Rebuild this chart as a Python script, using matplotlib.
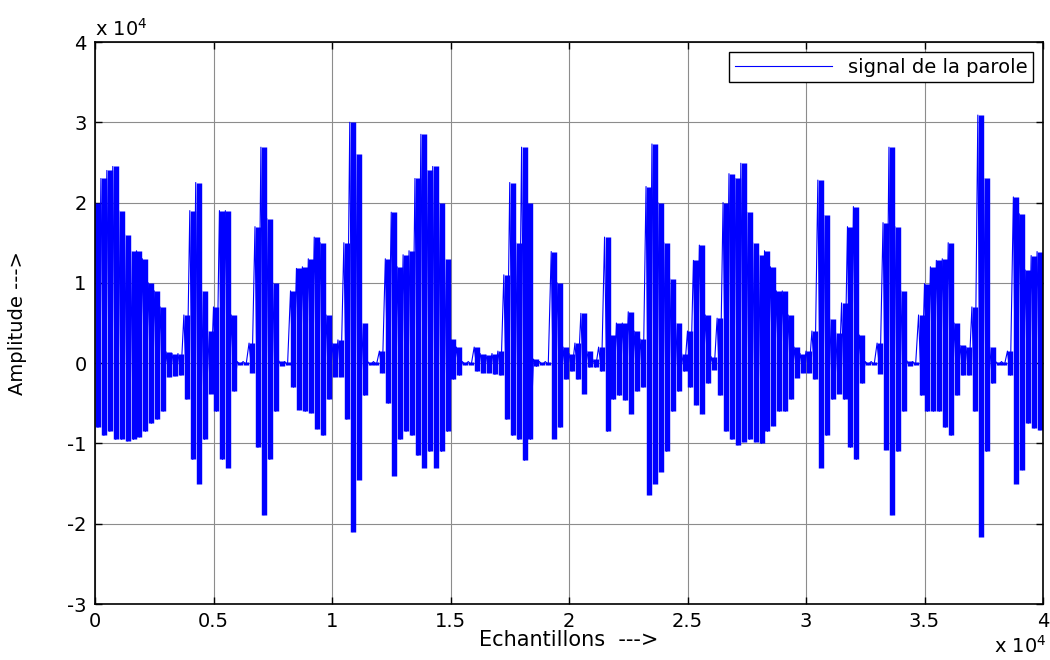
"""Speech signal waveform (amplitude vs samples), MATLAB-style figure."""

import numpy as np
import matplotlib
matplotlib.use("Agg")
import matplotlib.pyplot as plt

# ── Data ──────────────────────────────────────────────────────────────────────
# Signal summarised per block of 250 samples: peak high / peak low, in units of 1e4

BLOCK = 250
N_SAMPLES = 40000

amp_hi = [
    2.00, 2.30, 2.40, 2.45, 1.90, 1.60, 1.40, 1.40, 1.30, 1.00,
    0.90, 0.70, 0.14, 0.12, 0.12, 0.60, 1.90, 2.25, 0.90, 0.40,
    0.70, 1.90, 1.90, 0.60, 0.02, 0.02, 0.25, 1.70, 2.69, 1.80,
    1.00, 0.03, 0.02, 0.90, 1.18, 1.20, 1.30, 1.57, 1.50, 0.60,
    0.25, 0.29, 1.50, 3.00, 2.60, 0.50, 0.02, 0.02, 0.15, 1.30,
    1.88, 1.20, 1.35, 1.40, 2.30, 2.85, 2.40, 2.45, 2.00, 1.30,
    0.30, 0.20, 0.02, 0.02, 0.20, 0.12, 0.10, 0.12, 0.15, 1.10,
    2.25, 1.50, 2.69, 2.00, 0.05, 0.02, 0.02, 1.39, 1.00, 0.20,
    0.12, 0.25, 0.62, 0.15, 0.05, 0.20, 1.57, 0.35, 0.50, 0.50,
    0.64, 0.40, 0.30, 2.20, 2.73, 2.00, 1.50, 1.05, 0.50, 0.12,
    0.40, 1.28, 1.47, 0.60, 0.08, 0.56, 2.00, 2.36, 2.30, 2.49,
    1.88, 1.50, 1.35, 1.40, 1.20, 0.90, 0.90, 0.60, 0.20, 0.12,
    0.15, 0.40, 2.28, 1.84, 0.55, 0.38, 0.75, 1.70, 1.95, 0.35,
    0.02, 0.02, 0.25, 1.75, 2.69, 1.70, 0.90, 0.03, 0.02, 0.60,
    0.99, 1.20, 1.28, 1.30, 1.50, 0.50, 0.22, 0.20, 0.70, 3.09,
    2.30, 0.20, 0.02, 0.02, 0.15, 2.07, 1.86, 1.16, 1.34, 1.39,
]

amp_lo = [
    -0.80, -0.90, -0.85, -0.95, -0.95, -0.97, -0.95, -0.92, -0.85, -0.75,
    -0.70, -0.60, -0.17, -0.16, -0.15, -0.45, -1.20, -1.50, -0.95, -0.38,
    -0.60, -1.20, -1.30, -0.35, -0.02, -0.02, -0.12, -1.05, -1.89, -1.20,
    -0.60, -0.03, -0.02, -0.30, -0.58, -0.60, -0.62, -0.82, -0.90, -0.45,
    -0.17, -0.17, -0.70, -2.10, -1.45, -0.40, -0.02, -0.02, -0.12, -0.50,
    -1.40, -0.95, -0.85, -0.90, -1.15, -1.30, -1.10, -1.30, -1.10, -0.85,
    -0.20, -0.15, -0.02, -0.02, -0.10, -0.12, -0.12, -0.14, -0.15, -0.70,
    -0.90, -0.95, -1.21, -0.95, -0.04, -0.02, -0.02, -0.94, -0.80, -0.20,
    -0.10, -0.20, -0.38, -0.05, -0.05, -0.10, -0.85, -0.45, -0.40, -0.46,
    -0.63, -0.35, -0.30, -1.64, -1.50, -1.35, -1.10, -0.60, -0.35, -0.10,
    -0.30, -0.52, -0.63, -0.25, -0.08, -0.40, -0.85, -0.95, -1.02, -0.98,
    -0.95, -0.98, -1.00, -0.85, -0.78, -0.60, -0.60, -0.45, -0.18, -0.12,
    -0.12, -0.20, -1.30, -0.90, -0.45, -0.38, -0.45, -1.05, -1.20, -0.25,
    -0.02, -0.02, -0.13, -1.08, -1.89, -1.10, -0.60, -0.03, -0.02, -0.40,
    -0.60, -0.60, -0.60, -0.80, -0.90, -0.40, -0.15, -0.15, -0.60, -2.16,
    -1.10, -0.25, -0.02, -0.02, -0.15, -1.50, -1.33, -0.75, -0.81, -0.83,
]

x_ticks = [0, 0.5, 1, 1.5, 2, 2.5, 3, 3.5, 4]
y_ticks = [-3, -2, -1, 0, 1, 2, 3, 4]

# ── Build the trace: high then low inside each block ──────────────────────────

hi = np.array(amp_hi)
lo = np.array(amp_lo)
starts = np.arange(len(hi)) * BLOCK / 1e4
centers = starts + BLOCK / 2 / 1e4

xs = np.empty(2 * len(hi))
ys = np.empty(2 * len(hi))
xs[0::2], xs[1::2] = starts, centers
ys[0::2], ys[1::2] = hi, lo

# ── Figure ────────────────────────────────────────────────────────────────────

plt.rcParams["font.family"] = ["DejaVu Sans"]
FS = 14

fig = plt.figure(figsize=(10.5, 6.6), dpi=100)
ax = fig.add_axes([95 / 1050, 56 / 660, 948 / 1050, 562 / 660])

# each block drawn as a dense vertical stroke, like a long signal squeezed into pixels
ax.vlines(centers, lo, hi, color="#0000ff", lw=3.9)
ax.plot(xs, ys, color="#0000ff", lw=0.8, label="signal de la parole")

ax.set_xlim(0, N_SAMPLES / 1e4)
ax.set_ylim(-3, 4)
ax.set_xticks(x_ticks)
ax.set_xticklabels([f"{t:g}" for t in x_ticks])
ax.set_yticks(y_ticks)
ax.set_yticklabels([f"{t:g}" for t in y_ticks])

ax.grid(True, color="0.55", lw=0.8)
ax.set_axisbelow(True)
ax.tick_params(direction="in", length=5, top=True, right=True,
               labelsize=FS, width=1.0)
ax.tick_params(axis="x", pad=6)
ax.tick_params(axis="y", pad=6)
for sp in ax.spines.values():
    sp.set_linewidth(1.2)

ax.set_xlabel("Echantillons  --->", fontsize=FS + 1)
ax.xaxis.set_label_coords(0.5, -0.046)
ax.set_ylabel("Amplitude --->", fontsize=FS)
ax.yaxis.set_label_coords(-0.072, 0.5)

# scale factors, MATLAB style
ax.text(0.0, 1.004, r"x 10$^4$", transform=ax.transAxes, fontsize=FS,
        ha="left", va="bottom")
fig.text(1047 / 1050, 3 / 660, r"x 10$^4$", fontsize=FS, ha="right", va="bottom")

leg = ax.legend(loc="upper right", fontsize=FS, fancybox=False,
                edgecolor="black", framealpha=1, handlelength=5.0,
                borderaxespad=0.5, borderpad=0.3)
leg.get_frame().set_linewidth(1.0)
for h in leg.get_lines():
    h.set_linewidth(0.8)

fig.savefig("out.png", dpi=100)
